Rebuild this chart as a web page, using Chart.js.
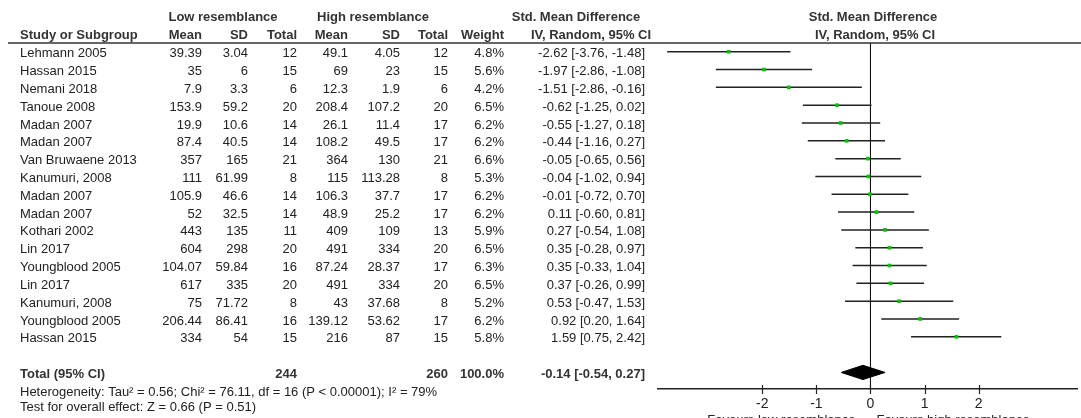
<!DOCTYPE html>
<html>
<head>
<meta charset="utf-8">
<title>Forest plot - low vs high resemblance</title>
<script src="https://cdn.jsdelivr.net/npm/chart.js@4/dist/chart.umd.min.js"></script>
<style>
  body { margin: 0; background: #fff; }
  #wrap { width: 1081px; height: 418px; position: relative; }
</style>
</head>
<body>
<div id="wrap"><canvas id="forest"></canvas></div>
<script type="text/javascript">
var studies = ["Lehmann 2005", "Hassan 2015", "Nemani 2018", "Tanoue 2008", "Madan 2007", "Madan 2007",
  "Van Bruwaene 2013", "Kanumuri, 2008", "Madan 2007", "Madan 2007", "Kothari 2002", "Lin 2017",
  "Youngblood 2005", "Lin 2017", "Kanumuri, 2008", "Youngblood 2005", "Hassan 2015"];
var lowMean = [39.39, 35, 7.9, 153.9, 19.9, 87.4, 357, 111, 105.9, 52, 443, 604, 104.07, 617, 75, 206.44, 334];
var lowSD = [3.04, 6, 3.3, 59.2, 10.6, 40.5, 165, 61.99, 46.6, 32.5, 135, 298, 59.84, 335, 71.72, 86.41, 54];
var lowN = [12, 15, 6, 20, 14, 14, 21, 8, 14, 14, 11, 20, 16, 20, 8, 16, 15];
var highMean = [49.1, 69, 12.3, 208.4, 26.1, 108.2, 364, 115, 106.3, 48.9, 409, 491, 87.24, 491, 43, 139.12, 216];
var highSD = [4.05, 23, 1.9, 107.2, 11.4, 49.5, 130, 113.28, 37.7, 25.2, 109, 334, 28.37, 334, 37.68, 53.62, 87];
var highN = [12, 15, 6, 20, 17, 17, 21, 8, 17, 17, 13, 20, 17, 20, 8, 17, 15];
var weights = [4.8, 5.6, 4.2, 6.5, 6.2, 6.2, 6.6, 5.3, 6.2, 6.2, 5.9, 6.5, 6.3, 6.5, 5.2, 6.2, 5.8];
var smd = [-2.62, -1.97, -1.51, -0.62, -0.55, -0.44, -0.05, -0.04, -0.01, 0.11, 0.27, 0.35, 0.35, 0.37, 0.53, 0.92, 1.59];
var ciLow = [-3.76, -2.86, -2.86, -1.25, -1.27, -1.16, -0.65, -1.02, -0.72, -0.60, -0.54, -0.28, -0.33, -0.26, -0.47, 0.20, 0.75];
var ciHigh = [-1.48, -1.08, -0.16, 0.02, 0.18, 0.27, 0.56, 0.94, 0.70, 0.81, 1.08, 0.97, 1.04, 0.99, 1.53, 1.64, 2.42];

var totalLowN = 244, totalHighN = 260, totalWeight = 100.0;
var totalSmd = -0.14, totalLow = -0.54, totalHigh = 0.27;
var xTicks = [-2, -1, 0, 1, 2];
var heterogeneity = "Heterogeneity: Tau\u00b2 = 0.56; Chi\u00b2 = 76.11, df = 16 (P < 0.00001); I\u00b2 = 79%";
var overallTest = "Test for overall effect: Z = 0.66 (P = 0.51)";

var totalRow = studies.length + 2;

function ciText(m, lo, hi) {
  return m.toFixed(2) + " [" + lo.toFixed(2) + ", " + hi.toFixed(2) + "]";
}

// one short line per study for the confidence interval
var datasets = studies.map(function (s, i) {
  return {
    type: "line", showLine: true, label: s,
    data: [{x: ciLow[i], y: i + 1}, {x: ciHigh[i], y: i + 1}],
    borderColor: "#222", borderWidth: 1.5, pointRadius: 0, order: 2
  };
});
datasets.push({
  type: "scatter", label: "SMD",
  data: smd.map(function (v, i) { return {x: v, y: i + 1}; }),
  pointStyle: "rect", pointRadius: 2.6, backgroundColor: "#00c800", borderColor: "#00c800", borderWidth: 0, order: 0
});
// summary diamond
datasets.push({
  type: "line", showLine: true, label: "Total",
  data: [{x: totalLow, y: totalRow}, {x: totalSmd, y: totalRow - 0.4}, {x: totalHigh, y: totalRow},
         {x: totalSmd, y: totalRow + 0.4}, {x: totalLow, y: totalRow}],
  borderColor: "#000", backgroundColor: "#000", borderWidth: 1, fill: "shape", pointRadius: 0, tension: 0, order: 1
});

var yMin = 0.51, yMax = 19.93;
datasets.push({
  type: "line", showLine: true, label: "zero",
  data: [{x: 0, y: yMin}, {x: 0, y: yMax}],
  borderColor: "#111", borderWidth: 1, pointRadius: 0, order: 3
});

var txt = "#222";
var FONT = "'Liberation Sans', Arial, sans-serif";

var tablePlugin = {
  id: "table",
  afterDraw: function (chart) {
    var ctx = chart.ctx;
    var xs = chart.scales.x, ys = chart.scales.y;
    ctx.save();

    // header rule
    ctx.strokeStyle = "#333";
    ctx.lineWidth = 1.5;
    ctx.beginPath();
    ctx.moveTo(8, 43);
    ctx.lineTo(1081, 43);
    ctx.stroke();

    // tick marks crossing the axis
    ctx.strokeStyle = "#222";
    ctx.lineWidth = 1.2;
    var yb = chart.chartArea.bottom;
    xTicks.forEach(function (t) {
      var px = Math.round(xs.getPixelForValue(t)) + 0.5;
      ctx.beginPath();
      ctx.moveTo(px, yb - 4);
      ctx.lineTo(px, yb + 5);
      ctx.stroke();
    });

    ctx.textBaseline = "middle";
    // headers
    ctx.fillStyle = "#333";
    ctx.font = "bold 13px " + FONT;
    ctx.textAlign = "center";
    ctx.fillText("Low resemblance", 223, 17);
    ctx.fillText("High resemblance", 373, 17);
    ctx.fillText("Std. Mean Difference", 576, 17);
    ctx.fillText("IV, Random, 95% CI", 591, 35);
    ctx.fillText("Std. Mean Difference", 873, 17);
    ctx.fillText("IV, Random, 95% CI", 875, 35);
    ctx.textAlign = "left";
    ctx.fillText("Study or Subgroup", 20, 35);
    ctx.textAlign = "right";
    var hdr = [["Mean", 202], ["SD", 248], ["Total", 297], ["Mean", 348], ["SD", 400], ["Total", 448], ["Weight", 504]];
    hdr.forEach(function (h) { ctx.fillText(h[0], h[1], 35); });

    // study rows
    ctx.fillStyle = txt;
    ctx.font = "13px " + FONT;
    studies.forEach(function (s, i) {
      var y = ys.getPixelForValue(i + 1) + 2;
      ctx.textAlign = "left";
      ctx.fillText(s, 20, y);
      ctx.textAlign = "right";
      ctx.fillText(String(lowMean[i]), 202, y);
      ctx.fillText(String(lowSD[i]), 248, y);
      ctx.fillText(String(lowN[i]), 297, y);
      ctx.fillText(String(highMean[i]), 348, y);
      ctx.fillText(String(highSD[i]), 400, y);
      ctx.fillText(String(highN[i]), 448, y);
      ctx.fillText(weights[i].toFixed(1) + "%", 504, y);
      ctx.fillText(ciText(smd[i], ciLow[i], ciHigh[i]), 645, y);
    });

    // total row
    var yt = ys.getPixelForValue(totalRow) + 2;
    ctx.font = "bold 13px " + FONT;
    ctx.fillStyle = "#333";
    ctx.textAlign = "left";
    ctx.fillText("Total (95% CI)", 20, yt);
    ctx.textAlign = "right";
    ctx.fillText(String(totalLowN), 297, yt);
    ctx.fillText(String(totalHighN), 448, yt);
    ctx.fillText(totalWeight.toFixed(1) + "%", 504, yt);
    ctx.fillText(ciText(totalSmd, totalLow, totalHigh), 645, yt);

    ctx.font = "13px " + FONT;
    ctx.fillStyle = txt;
    ctx.textAlign = "left";
    ctx.fillText(heterogeneity, 20, 392);
    ctx.fillText(overallTest, 20, 407);

    // favours labels under the axis, cut by the bottom edge
    ctx.font = "13px " + FONT;
    var zx = xs.getPixelForValue(0);
    ctx.textAlign = "right";
    ctx.fillText("Favours low resemblance", zx - 15, 420);
    ctx.textAlign = "left";
    ctx.fillText("Favours high resemblance", zx + 6, 420);
    ctx.restore();
  }
};

new Chart(document.getElementById("forest"), {
  type: "scatter",
  data: { datasets: datasets },
  plugins: [tablePlugin],
  options: {
    responsive: true,
    maintainAspectRatio: false,
    animation: false,
    layout: { padding: { left: 658, right: 0, top: 43, bottom: 0 } },
    plugins: { legend: { display: false }, tooltip: { enabled: false } },
    scales: {
      x: {
        type: "linear", min: -3.93, max: 3.82,
        border: { display: true, color: "#222", width: 1.5 },
        grid: { display: false, drawTicks: false },
        afterBuildTicks: function (scale) {
          scale.ticks = xTicks.map(function (v) { return {value: v}; });
        },
        afterFit: function (scale) { scale.height = 29; },
        ticks: { color: "#222", padding: 7, font: { size: 14, family: FONT }, autoSkip: false, maxRotation: 0 }
      },
      y: {
        type: "linear", reverse: true, min: yMin, max: yMax, display: false
      }
    }
  }
});
</script>
</body>
</html>
